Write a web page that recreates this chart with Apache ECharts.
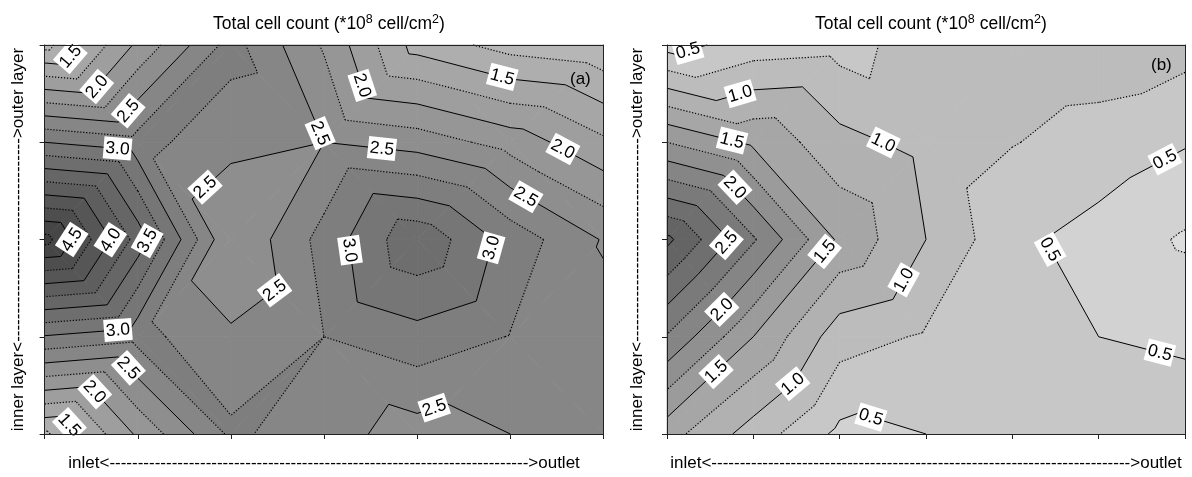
<!DOCTYPE html>
<html>
<head>
<meta charset="utf-8">
<title>Total cell count</title>
<script src="https://cdn.jsdelivr.net/npm/echarts@6.0.0/dist/echarts.min.js"></script>
<style>
  html, body { margin: 0; padding: 0; background: #ffffff; }
  #chart { width: 1192px; height: 477px; }
</style>
</head>
<body>
<div id="chart"></div>
<script>
const FONT = '"Liberation Sans", Arial, sans-serif';

// Sampling grid: 7 stations from inlet to outlet, 5 positions from the outer layer (row 0) to the inner layer (row 4)
const stations = [0, 1, 2, 3, 4, 5, 6];
const layers = [0, 1, 2, 3, 4];

// Total cell count (*10^8 cell/cm^2), one row per layer position, one column per station
const countA = [
  [1.16, 2.05, 2.85, 2.22, 1.40, 1.15, 1.05],
  [3.00, 2.85, 2.57, 2.50, 2.39, 2.15, 1.80],
  [4.85, 3.65, 2.25, 2.84, 3.45, 2.90, 2.48],
  [2.98, 2.84, 2.54, 2.75, 2.91, 2.74, 2.58],
  [1.20, 2.04, 2.80, 2.60, 2.39, 2.50, 2.60]
];
const countB = [
  [0.40, 0.615, 0.66, 0.86, 0.90, 0.88, 0.84],
  [1.75, 1.45, 1.08, 0.92, 0.76, 0.66, 0.52],
  [3.06, 2.28, 1.45, 1.00, 0.56, 0.40, 0.22],
  [2.23, 1.50, 0.86, 0.72, 0.60, 0.50, 0.44],
  [1.35, 0.89, 0.44, 0.50, 0.60, 0.65, 0.70]
];

// Contour levels (band edges)
const levelsA = [1.0, 1.25, 1.5, 1.75, 2.0, 2.25, 2.5, 2.75, 3.0, 3.25, 3.5, 3.75, 4.0, 4.25, 4.5, 4.75, 5.0];
const levelsB = [0.0, 0.25, 0.5, 0.75, 1.0, 1.25, 1.5, 1.75, 2.0, 2.25, 2.5, 2.75, 3.0, 3.25];

// Where the contour value labels sit: [level, station, layer] (snapped onto the contour)
const labelSpotsA = [
  [1.5, 0.28, 0.12], [2.0, 0.60, 0.46], [2.5, 0.95, 0.72], [3.0, 0.78, 1.10],
  [2.5, 1.72, 1.46], [2.5, 2.90, 0.93], [2.5, 3.62, 1.08], [2.0, 3.33, 0.44],
  [1.5, 4.91, 0.34], [2.0, 5.53, 1.13], [2.5, 5.13, 1.62], [3.0, 4.89, 2.11],
  [3.0, 3.28, 2.11], [2.5, 4.19, 3.75], [2.5, 2.49, 2.55], [4.5, 0.29, 2.0],
  [4.0, 0.70, 2.0], [3.5, 1.08, 2.0], [3.0, 0.79, 2.96], [2.5, 0.90, 3.32],
  [2.0, 0.52, 3.58], [1.5, 0.25, 3.92]
];
const labelSpotsB = [
  [0.5, 0.25, 0.08], [1.0, 0.87, 0.57], [1.5, 0.74, 1.03], [2.0, 0.78, 1.47],
  [2.5, 0.70, 2.04], [2.0, 0.68, 2.76], [1.5, 0.58, 3.37], [1.0, 1.49, 3.52],
  [0.5, 2.36, 3.83], [1.5, 1.85, 2.14], [1.0, 2.48, 1.05], [1.0, 2.75, 2.42],
  [0.5, 5.77, 1.18], [0.5, 4.36, 2.14], [0.5, 5.71, 3.16]
];

// Split every grid cell into two triangles, alternating the diagonal (union-jack mesh)
function meshTriangles(z) {
  const tris = [];
  for (let j = 0; j < layers.length - 1; j++) {
    for (let i = 0; i < stations.length - 1; i++) {
      const A = [stations[i], layers[j], z[j][i]];
      const B = [stations[i + 1], layers[j], z[j][i + 1]];
      const C = [stations[i], layers[j + 1], z[j + 1][i]];
      const D = [stations[i + 1], layers[j + 1], z[j + 1][i + 1]];
      if ((i + j) % 2 === 0) tris.push([A, B, D], [A, D, C]);
      else tris.push([A, B, C], [B, D, C]);
    }
  }
  return tris;
}

// Keep the part of a polygon where value >= level (keepAbove) or value <= level
function clipPoly(poly, level, keepAbove) {
  const out = [];
  const n = poly.length;
  for (let k = 0; k < n; k++) {
    const P = poly[k], Q = poly[(k + 1) % n];
    const fp = keepAbove ? P[2] - level : level - P[2];
    const fq = keepAbove ? Q[2] - level : level - Q[2];
    if (fp >= 0) out.push(P);
    if ((fp >= 0 && fq < 0) || (fp < 0 && fq >= 0)) {
      const t = fp / (fp - fq);
      out.push([P[0] + t * (Q[0] - P[0]), P[1] + t * (Q[1] - P[1]), level]);
    }
  }
  return out;
}

function polyArea(poly) {
  let a = 0;
  for (let k = 0; k < poly.length; k++) {
    const P = poly[k], Q = poly[(k + 1) % poly.length];
    a += P[0] * Q[1] - Q[0] * P[1];
  }
  return Math.abs(a) / 2;
}

function bandPolygons(tris, levels, shade) {
  const polys = [];
  for (const tri of tris) {
    for (let b = 0; b < levels.length - 1; b++) {
      const lo = levels[b], hi = levels[b + 1];
      const poly = clipPoly(clipPoly(tri, lo, true), hi, false);
      if (poly.length >= 3 && polyArea(poly) > 1e-9) {
        const g = Math.max(0, Math.min(255, Math.round(shade((lo + hi) / 2))));
        let cx = 0, cy = 0;
        poly.forEach(p => { cx += p[0]; cy += p[1]; });
        polys.push({ pts: poly, color: 'rgb(' + g + ',' + g + ',' + g + ')', cx: cx / poly.length, cy: cy / poly.length });
      }
    }
  }
  return polys;
}

function contourSegments(tris, levels) {
  const segs = [];
  for (const tri of tris) {
    for (const L of levels) {
      const pts = [];
      for (let k = 0; k < 3; k++) {
        const P = tri[k], Q = tri[(k + 1) % 3];
        if ((P[2] >= L) !== (Q[2] >= L)) {
          const t = (L - P[2]) / (Q[2] - P[2]);
          pts.push([P[0] + t * (Q[0] - P[0]), P[1] + t * (Q[1] - P[1])]);
        }
      }
      if (pts.length === 2 && Math.abs(pts[0][0] - pts[1][0]) + Math.abs(pts[0][1] - pts[1][1]) > 1e-9) {
        segs.push({ level: L, p: pts[0], q: pts[1], solid: Math.abs(L * 2 - Math.round(L * 2)) < 1e-9 });
      }
    }
  }
  return segs;
}

function panelSeries(z, levels, spots, shade, xIdx, yIdx) {
  const tris = meshTriangles(z);
  const polys = bandPolygons(tris, levels, shade);
  const segs = contourSegments(tris, levels);
  const common = { type: 'custom', xAxisIndex: xIdx, yAxisIndex: yIdx, silent: true, clip: false, encode: { x: 0, y: 1 } };
  return [
    Object.assign({}, common, {
      z: 1,
      data: polys.map((p, k) => [p.cx, p.cy, k]),
      renderItem: (params, api) => {
        const p = polys[api.value(2)];
        return {
          type: 'polygon',
          shape: { points: p.pts.map(q => api.coord([q[0], q[1]])) },
          style: { fill: p.color, stroke: p.color, lineWidth: 0.8 }
        };
      }
    }),
    Object.assign({}, common, {
      z: 2,
      data: segs.map((s, k) => [(s.p[0] + s.q[0]) / 2, (s.p[1] + s.q[1]) / 2, k]),
      renderItem: (params, api) => {
        const s = segs[api.value(2)];
        const a = api.coord(s.p), b = api.coord(s.q);
        return {
          type: 'line',
          shape: { x1: a[0], y1: a[1], x2: b[0], y2: b[1] },
          style: s.solid
            ? { stroke: '#000', lineWidth: 1 }
            : { stroke: '#000', lineWidth: 1.2, lineDash: [1.2, 1.8] }
        };
      }
    }),
    Object.assign({}, common, {
      z: 3,
      data: spots.map((s, k) => [s[1], s[2], k]),
      renderItem: (params, api) => {
        const s = spots[api.value(2)];
        const L = s[0];
        const A = api.coord([s[1], s[2]]);
        let best = null;
        for (const g of segs) {
          if (Math.abs(g.level - L) > 1e-9) continue;
          const p = api.coord(g.p), q = api.coord(g.q);
          const dx = q[0] - p[0], dy = q[1] - p[1];
          const len2 = dx * dx + dy * dy;
          let t = len2 > 0 ? ((A[0] - p[0]) * dx + (A[1] - p[1]) * dy) / len2 : 0;
          t = Math.max(0, Math.min(1, t));
          const x = p[0] + t * dx, y = p[1] + t * dy;
          const d = (x - A[0]) * (x - A[0]) + (y - A[1]) * (y - A[1]);
          if (!best || d < best.d) best = { d, x, y, dx, dy };
        }
        if (!best) return null;
        let ang = Math.atan2(-best.dy, best.dx);
        if (ang > Math.PI / 2) ang -= Math.PI;
        if (ang <= -Math.PI / 2) ang += Math.PI;
        const w = 28, h = 22;
        return {
          type: 'group', x: best.x, y: best.y, rotation: ang,
          children: [
            { type: 'rect', shape: { x: -w / 2, y: -h / 2, width: w, height: h }, style: { fill: '#fff' } },
            { type: 'text', style: { text: L.toFixed(1), x: 0, y: 0.5, align: 'center', verticalAlign: 'middle', fontSize: 17.5, fontFamily: FONT, fill: '#000' } }
          ]
        };
      }
    })
  ];
}

const xName = 'inlet<' + '-'.repeat(74) + '>outlet';
const yName = 'inner layer<' + '-'.repeat(36) + '>outer layer';
const nameStyle = { fontSize: 17, fontFamily: FONT, color: '#000' };
const lineStyle = { color: '#222', width: 1 };

function bottomAxis(g) {
  return {
    type: 'value', gridIndex: g, min: 0, max: 6, interval: 1, z: 5,
    axisLine: { show: true, onZero: false, lineStyle },
    axisTick: { show: true, inside: false, length: 5, lineStyle },
    axisLabel: { show: false }, splitLine: { show: false },
    name: xName, nameLocation: 'middle', nameGap: 21, nameTextStyle: nameStyle
  };
}
function topAxis(g) {
  return {
    type: 'value', gridIndex: g, position: 'top', min: 0, max: 6, z: 5,
    axisLine: { show: true, onZero: false, lineStyle },
    axisTick: { show: false }, axisLabel: { show: false }, splitLine: { show: false }
  };
}
function leftAxis(g, gap) {
  return {
    type: 'value', gridIndex: g, min: 0, max: 4, interval: 1, inverse: true, z: 5,
    axisLine: { show: true, onZero: false, lineStyle },
    axisTick: { show: true, inside: false, length: 5, lineStyle },
    axisLabel: { show: false }, splitLine: { show: false },
    name: yName, nameLocation: 'middle', nameGap: gap, nameRotate: 90, nameTextStyle: nameStyle
  };
}
function rightAxis(g) {
  return {
    type: 'value', gridIndex: g, position: 'right', min: 0, max: 4, inverse: true, z: 5,
    axisLine: { show: true, onZero: false, lineStyle },
    axisTick: { show: false }, axisLabel: { show: false }, splitLine: { show: false }
  };
}

// Title with superscript exponents
const titleRich = {
  n: { fontSize: 17.5, fontWeight: 'normal', fontFamily: FONT, color: '#000', lineHeight: 22, verticalAlign: 'bottom' },
  s: { fontSize: 12.5, fontWeight: 'normal', fontFamily: FONT, color: '#000', lineHeight: 22, verticalAlign: 'bottom', padding: [0, 0, 7, 0] }
};
const titleText = '{n|Total cell count (*10}{s|8}{n| cell/cm}{s|2}{n|)}';

const chart = echarts.init(document.getElementById('chart'), null, { renderer: 'canvas' });
chart.setOption({
  animation: false,
  backgroundColor: '#ffffff',
  title: [
    { text: titleText, left: 324, top: 6, textAlign: 'center', textStyle: { fontWeight: 'normal', rich: titleRich } },
    { text: titleText, left: 926, top: 6, textAlign: 'center', textStyle: { fontWeight: 'normal', rich: titleRich } }
  ],
  grid: [
    { left: 44.6, top: 45, width: 558.9, height: 389 },
    { left: 667, top: 45, width: 518, height: 389 }
  ],
  xAxis: [bottomAxis(0), topAxis(0), bottomAxis(1), topAxis(1)],
  yAxis: [leftAxis(0, 18), rightAxis(0), leftAxis(1, 21), rightAxis(1)],
  graphic: [
    { type: 'text', x: 570, y: 79, z: 10, style: { text: '(a)', fontSize: 17, fontFamily: FONT, fill: '#000', verticalAlign: 'middle' } },
    { type: 'text', x: 1151, y: 65, z: 10, style: { text: '(b)', fontSize: 17, fontFamily: FONT, fill: '#000', verticalAlign: 'middle' } }
  ],
  series: [].concat(
    panelSeries(countA, levelsA, labelSpotsA, m => 218 - 32 * m, 0, 0),
    panelSeries(countB, levelsB, labelSpotsB, m => 226 - 44 * m, 2, 2)
  )
});
</script>
</body>
</html>
